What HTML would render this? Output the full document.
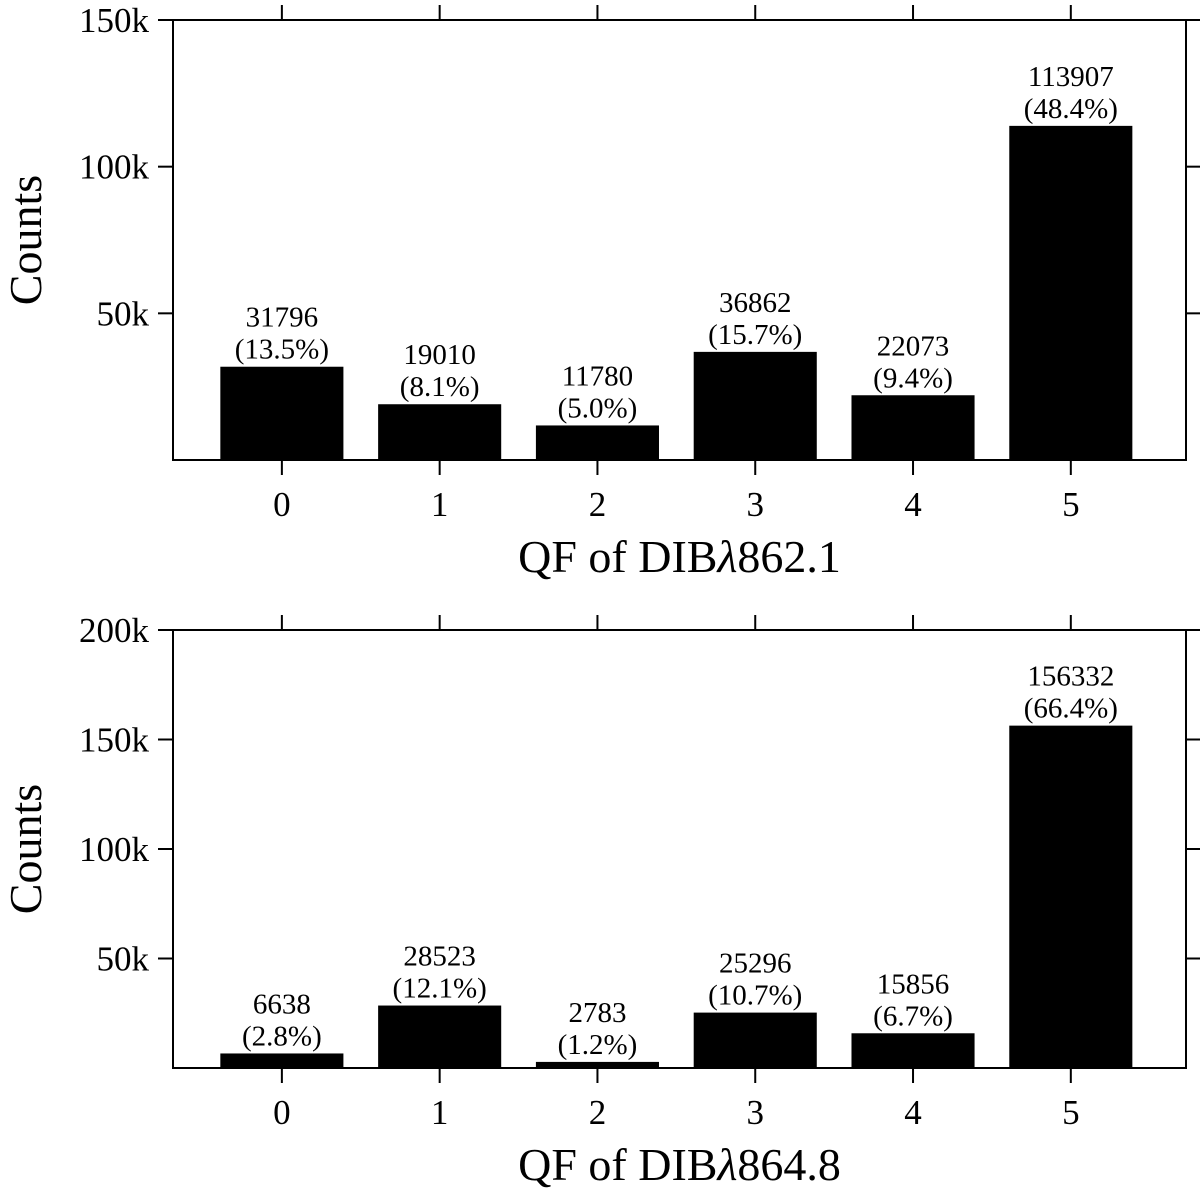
<!DOCTYPE html>
<html><head><meta charset="utf-8"><style>
html,body{margin:0;padding:0;background:#fff}
svg{display:block}
text{font-family:"Liberation Serif","DejaVu Serif",serif;fill:#000}
</style></head><body>
<svg id="chart" width="1200" height="1197" viewBox="0 0 1200 1197" xmlns="http://www.w3.org/2000/svg"></svg>
<script>
const categories = ["0","1","2","3","4","5"];
const countsTop = [31796, 19010, 11780, 36862, 22073, 113907];
const pctTop = ["13.5%","8.1%","5.0%","15.7%","9.4%","48.4%"];
const countsBottom = [6638, 28523, 2783, 25296, 15856, 156332];
const pctBottom = ["2.8%","12.1%","1.2%","10.7%","6.7%","66.4%"];
const yTicksTop = [50000, 100000, 150000];
const yTickLabelsTop = ["50k","100k","150k"];
const yTicksBottom = [50000, 100000, 150000, 200000];
const yTickLabelsBottom = ["50k","100k","150k","200k"];

const NS = "http://www.w3.org/2000/svg";
const svg = document.getElementById("chart");
function mk(tag, attrs, parent){
  const e = document.createElementNS(NS, tag);
  for (const k in attrs) e.setAttribute(k, attrs[k]);
  (parent||svg).appendChild(e);
  return e;
}
const L = 173, R = 1186;
const xMin = -0.69, xMax = 5.73;
function xScale(v){ return L + (v - xMin) / (xMax - xMin) * (R - L); }
const barW = 0.78 * (R - L) / (xMax - xMin);

function panel(name, top, bottom, yMax, counts, pcts, ticks, tickLabels, xlabel){
  const g = mk("g", {});
  
  
  const y = v => bottom - v / yMax * (bottom - top);
  counts.forEach((c, i) => {
    const cx = xScale(i);
    const r = mk("rect", {x: cx - barW/2, y: y(c), width: barW, height: bottom - y(c), fill: "#000"}, g);
    
    
    const t1 = mk("text", {x: cx, y: y(c) - 40, "text-anchor": "middle", "font-size": 29}, g);
    t1.textContent = c;
    
    
    const t2 = mk("text", {x: cx, y: y(c) - 8, "text-anchor": "middle", "font-size": 29}, g);
    t2.textContent = "(" + pcts[i] + ")";
    
    
  });
  const f = mk("rect", {x: L, y: top, width: R - L, height: bottom - top, fill: "none", stroke: "#000", "stroke-width": 2}, g);
  
  
  categories.forEach((c, i) => {
    const cx = xScale(i);
    mk("line", {x1: cx, x2: cx, y1: bottom, y2: bottom + 15, stroke: "#000", "stroke-width": 2}, g);
    mk("line", {x1: cx, x2: cx, y1: top, y2: top - 15, stroke: "#000", "stroke-width": 2}, g);
    const t = mk("text", {x: cx, y: bottom + 56, "text-anchor": "middle", "font-size": 35}, g);
    t.textContent = c;
    
    
  });
  ticks.forEach((v, i) => {
    const yy = y(v);
    mk("line", {x1: L, x2: L - 15, y1: yy, y2: yy, stroke: "#000", "stroke-width": 2}, g);
    mk("line", {x1: R, x2: R + 15, y1: yy, y2: yy, stroke: "#000", "stroke-width": 2}, g);
    const t = mk("text", {x: L - 24, y: yy + 12, "text-anchor": "end", "font-size": 35}, g);
    t.textContent = tickLabels[i];
    
    
  });
  const yl = mk("text", {x: 0, y: 0, "text-anchor": "middle", "font-size": 46, transform: "translate(41," + ((top + bottom)/2) + ") rotate(-90)"}, g);
  yl.textContent = "Counts";
  
  
  const xl = mk("text", {x: (L + R)/2, y: bottom + 112, "text-anchor": "middle", "font-size": 46}, g);
  xl.innerHTML = 'QF of DIB<tspan font-style="italic">λ</tspan>' + xlabel;
  
  
}
panel("panel-dib-862", 20, 460, 150000, countsTop, pctTop, yTicksTop, yTickLabelsTop, "862.1");
panel("panel-dib-864", 630, 1068, 200000, countsBottom, pctBottom, yTicksBottom, yTickLabelsBottom, "864.8");
</script>
</body></html>
